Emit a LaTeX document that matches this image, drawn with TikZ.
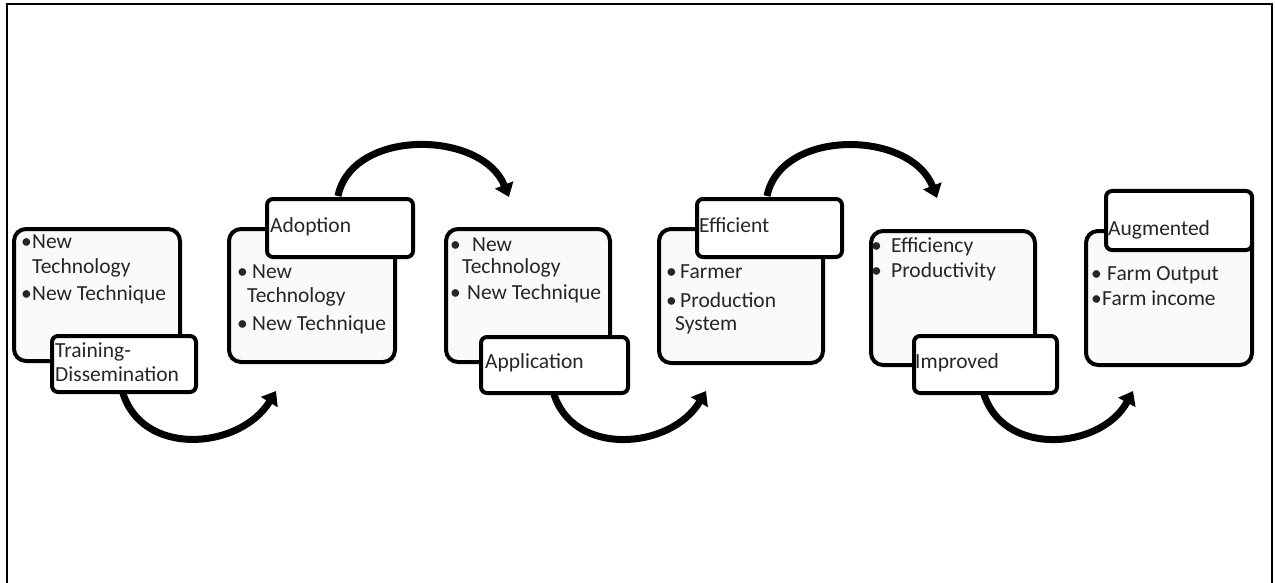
\documentclass[tikz,border=0pt]{standalone}
\usepackage{fontspec}
\setmainfont{Carlito}
\usetikzlibrary{arrows.meta}
\tikzset{
  mainbox/.style={draw=black, line width=4pt, rounded corners=12pt, fill=black!2, anchor=north west, inner sep=0pt},
  labelbox/.style={draw=black, line width=4pt, rounded corners=6pt, fill=white, anchor=north west, inner sep=0pt},
  txt/.style={anchor=base west, inner sep=0pt, font=\fontsize{21.5}{25}\selectfont, text=black!85},
  flow/.style={line width=7pt, -{Triangle[length=13pt,width=19pt]}},
  frame/.style={line width=2.5pt}
}
\newcommand{\bul}[1]{\makebox[#1][l]{•}}
\begin{document}
\begin{tikzpicture}[x=1pt,y=-1pt]
\useasboundingbox (0,0) rectangle (1275,583);
% frame
\draw[frame] (7,590) -- (7,4) -- (1272,4) -- (1272,590);

% arrow endpoints
\coordinate (s1) at (122,390);
\coordinate (e1) at (276,391);
\coordinate (s2) at (338,196);
\coordinate (e2) at (509,197);
\coordinate (s3) at (553,391);
\coordinate (e3) at (706,391);
\coordinate (s4) at (767,196);
\coordinate (e4) at (937,198);
\coordinate (s5) at (983,391);
\coordinate (e5) at (1133,391);

% arrows
\draw[flow] (s1) .. controls (140,458) and (240,450) .. (e1);
\draw[flow] (s2) .. controls (352,128) and (482,130) .. (e2);
\draw[flow] (s3) .. controls (571,458) and (671,450) .. (e3);
\draw[flow] (s4) .. controls (781,128) and (911,130) .. (e4);
\draw[flow] (s5) .. controls (1001,458) and (1101,450) .. (e5);

% main boxes
\node[mainbox, minimum width=166pt, minimum height=132pt] (b1) at (12,227) {};
\node[mainbox, minimum width=166pt, minimum height=133pt] (b2) at (227,227) {};
\node[mainbox, minimum width=164pt, minimum height=133pt] (b3) at (444,227) {};
\node[mainbox, minimum width=164pt, minimum height=134pt] (b4) at (657,227) {};
\node[mainbox, minimum width=164pt, minimum height=134pt] (b5) at (869,229) {};
\node[mainbox, minimum width=166pt, minimum height=134pt] (b6) at (1084,229) {};

% label boxes
\node[labelbox, minimum width=144pt, minimum height=56pt] (l1) at (50,334) {};
\node[labelbox, minimum width=146pt, minimum height=58pt] (l2) at (265,197) {};
\node[labelbox, minimum width=147pt, minimum height=56pt] (l3) at (479,335) {};
\node[labelbox, minimum width=145pt, minimum height=58pt] (l4) at (695,197) {};
\node[labelbox, minimum width=143pt, minimum height=57pt] (l5) at (912,334) {};
\node[labelbox, minimum width=146pt, minimum height=59pt] (l6) at (1104,189) {};

% box 1 text
\node[txt] (t1a) at (21,248) {\bul{11pt}New};
\node[txt] (t1b) at (32,273) {Technology};
\node[txt] (t1c) at (21,300) {\bul{11pt}New Technique};
\node[txt] (l1a) at (55,357) {Training-};
\node[txt] (l1b) at (55,381) {Dissemination};

% box 2 text
\node[txt] (l2a) at (270,232) {Adoption};
\node[txt] (t2a) at (237,278) {\bul{15pt}New};
\node[txt] (t2b) at (247,302) {Technology};
\node[txt] (t2c) at (237,330) {\bul{15pt}New Technique};

% box 3 text
\node[txt] (t3a) at (450,251) {\bul{22pt}New};
\node[txt] (t3b) at (462,273) {Technology};
\node[txt] (t3c) at (450,299) {\bul{17pt}New Technique};
\node[txt] (l3a) at (485,368) {Application};

% box 4 text
\node[txt] (l4a) at (699,232) {Efficient};
\node[txt] (t4a) at (666,278) {\bul{14pt}Farmer};
\node[txt] (t4b) at (666,307) {\bul{14pt}Production};
\node[txt] (t4c) at (675,330) {System};

% box 5 text
\node[txt] (t5a) at (871,252) {\bul{20pt}Efficiency};
\node[txt] (t5b) at (871,277) {\bul{20pt}Productivity};
\node[txt] (l5a) at (915,368) {Improved};

% box 6 text
\node[txt] (l6a) at (1108,235) {Augmented};
\node[txt] (t6a) at (1091,280) {\bul{16pt}Farm Output};
\node[txt] (t6b) at (1091,305) {\bul{11pt}Farm income};
\end{tikzpicture}
\end{document}
